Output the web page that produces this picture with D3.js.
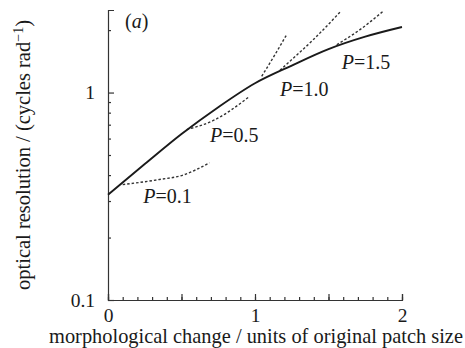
<!DOCTYPE html>
<html>
<head>
<meta charset="utf-8">
<script src="https://cdn.jsdelivr.net/npm/d3@7"></script>
<style>
  body { margin: 0; background: #fff; }
  text { font-family: "Liberation Serif", "Times New Roman", serif; fill: #1a1a1a; }
</style>
</head>
<body>
<div id="chart"></div>
<script>
// envelope curve (solid)
var solidX = [0, 0.25, 0.5, 0.75, 1.0, 1.25, 1.5, 1.75, 2.0];
var solidY = [0.322, 0.452, 0.631, 0.85, 1.109, 1.35, 1.62, 1.86, 2.07];

// dotted curves for fixed P
var p01X = [0.1, 0.35, 0.51, 0.6, 0.69];
var p01Y = [0.36, 0.381, 0.40, 0.425, 0.458];
var p05X = [0.535, 0.73, 0.92, 0.96];
var p05Y = [0.663, 0.741, 0.908, 0.955];
var p10X = [1.046, 1.136, 1.216];
var p10Y = [1.198, 1.524, 1.905];
var p12X = [1.17, 1.238, 1.397, 1.578];
var p12Y = [1.28, 1.416, 1.80, 2.44];
var p15X = [1.556, 1.714, 1.873];
var p15Y = [1.70, 2.01, 2.47];

var curveLabels = ['0.1', '0.5', '1.0', '1.5'];
var labelX = [0.24, 0.694, 1.17, 1.59];
var labelY = [0.295, 0.58, 0.967, 1.305];

var xMajor = [0, 0.5, 1, 1.5, 2];
var xMinor = d3.range(0, 2.001, 0.1);
var yMajor = [0.1, 1];
var yMinor = [0.2, 0.3, 0.4, 0.5, 0.6, 0.7, 0.8, 0.9, 2];

function zip(xs, ys) {
    return xs.map(function (d, i) { return [d, ys[i]]; });
}

var width = 465, height = 348;
var svg = d3.select('#chart').append('svg')
    .attr('width', width)
    .attr('height', height);

var x = d3.scaleLinear().domain([0, 2]).range([108, 402]);
var y = d3.scaleLog().domain([0.1, 2.5]).range([300, 10]);

// minor ticks first
svg.append('g')
    .attr('transform', 'translate(0,300)')
    .call(d3.axisBottom(x).tickValues(xMinor).tickSize(-3).tickSizeOuter(0).tickFormat(''))
    .call(function (g) { g.select('.domain').remove(); });

svg.append('g')
    .attr('transform', 'translate(108,0)')
    .call(d3.axisLeft(y).tickValues(yMinor).tickSize(-3).tickSizeOuter(0).tickFormat(''))
    .call(function (g) { g.select('.domain').remove(); });

// main axes
svg.append('g')
    .attr('transform', 'translate(0,300)')
    .call(d3.axisBottom(x).tickValues(xMajor).tickSize(-6).tickSizeOuter(-6).tickPadding(8)
        .tickFormat(function (d) { return d % 1 === 0 ? d : ''; }));

svg.append('g')
    .attr('transform', 'translate(108,0)')
    .call(d3.axisLeft(y).tickValues(yMajor).tickSize(-6).tickSizeOuter(-6).tickPadding(13)
        .tickFormat(function (d) { return d; }));

svg.selectAll('.tick text')
    .style('font-family', '"Liberation Serif", serif')
    .style('font-size', '19.5px')
    .attr('fill', '#1a1a1a');
svg.selectAll('.domain, .tick line').attr('stroke', '#333').attr('stroke-width', 1.2);

// curves
var line = d3.line()
    .x(function (d) { return x(d[0]); })
    .y(function (d) { return y(d[1]); })
    .curve(d3.curveMonotoneX);

var dotted = [zip(p01X, p01Y), zip(p05X, p05Y), zip(p10X, p10Y), zip(p12X, p12Y), zip(p15X, p15Y)];

svg.selectAll('path.dotted')
    .data(dotted)
    .enter()
    .append('path')
    .attr('class', 'dotted')
    .attr('d', line)
    .attr('fill', 'none')
    .attr('stroke', '#333')
    .attr('stroke-width', 1.4)
    .attr('stroke-dasharray', '2.5,2');

svg.append('path')
    .datum(zip(solidX, solidY))
    .attr('d', line)
    .attr('fill', 'none')
    .attr('stroke', '#1a1a1a')
    .attr('stroke-width', 1.9);

// P labels
var lab = svg.selectAll('text.plab')
    .data(curveLabels)
    .enter()
    .append('text')
    .attr('class', 'plab')
    .attr('x', function (d, i) { return x(labelX[i]); })
    .attr('y', function (d, i) { return y(labelY[i]); })
    .style('font-size', '20px');
lab.append('tspan').style('font-style', 'italic').text('P');
lab.append('tspan').text(function (d) { return '=' + d; });

// panel letter
var pa = svg.append('text')
    .attr('x', 125)
    .attr('y', 28)
    .style('font-size', '20px');
pa.append('tspan').text('(');
pa.append('tspan').style('font-style', 'italic').text('a');
pa.append('tspan').text(')');

// axis titles
svg.append('text')
    .attr('x', 256)
    .attr('y', 343)
    .attr('text-anchor', 'middle')
    .style('font-size', '20.4px')
    .text('morphological change / units of original patch size');

var yt = svg.append('text')
    .attr('transform', 'translate(30,155) rotate(-90)')
    .attr('text-anchor', 'middle')
    .style('font-size', '20.5px');
yt.append('tspan').text('optical resolution / (cycles rad');
yt.append('tspan').attr('dy', -7).style('font-size', '14px').text('\u22121');
yt.append('tspan').attr('dy', 7).text(')');
</script>
</body>
</html>
